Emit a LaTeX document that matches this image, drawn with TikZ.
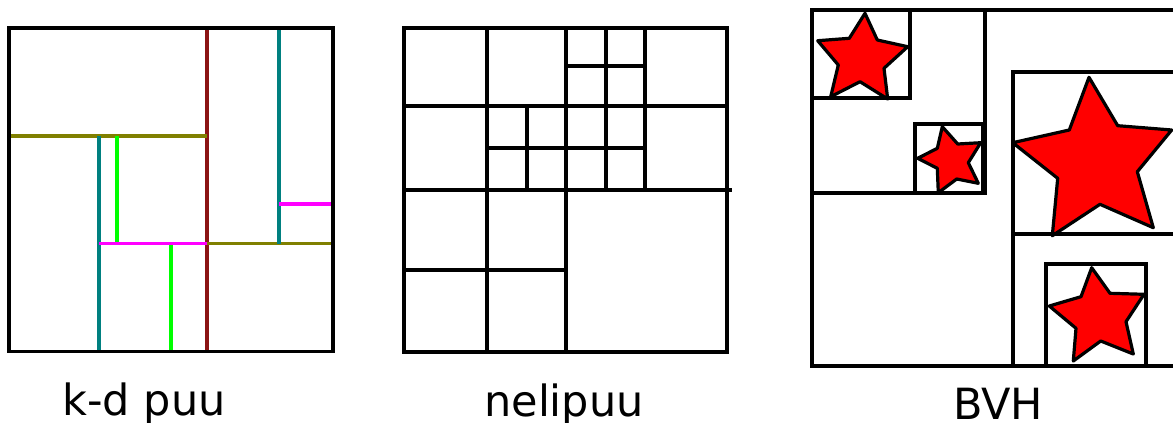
\documentclass[tikz,border=0pt]{standalone}
\usepackage{fontspec}
\setmainfont{DejaVu Sans}
\definecolor{kdred}{RGB}{139,20,20}
\definecolor{kdolive}{RGB}{128,128,0}
\definecolor{kdteal}{RGB}{0,128,128}
\definecolor{kdgreen}{RGB}{0,255,0}
\definecolor{kdmagenta}{RGB}{255,0,255}
\begin{document}
\begin{tikzpicture}[x=1pt,y=-1pt]
\tikzset{
  box/.style={draw=black,line width=3.5pt},
  split/.style={line width=3.2pt},
  qline/.style={draw=black,line width=3.5pt},
  starshape/.style={draw=black,fill=red,line width=3.2pt,line join=round},
  lbl/.style={anchor=base,inner sep=0pt,font=\fontsize{43}{50}\selectfont}
}
\useasboundingbox (0,0) rectangle (1173,423);
\clip (0,0) rectangle (1173,423);
% ---------- k-d tree ----------
\draw[split,kdred] (207,28) -- (207,351.5);
\draw[split,kdolive] (9,136) -- (207,136);
\draw[split,kdolive] (207,243.5) -- (333,243.5);
\draw[split,kdteal] (99,136) -- (99,351.5);
\draw[split,kdteal] (279,28) -- (279,243.5);
\draw[split,kdgreen] (117,136) -- (117,243.5);
\draw[split,kdgreen] (171,243.5) -- (171,351.5);
\draw[split,kdmagenta] (99,243.5) -- (207,243.5);
\draw[split,kdmagenta] (279,204) -- (333,204);
\draw[box] (9,28) rectangle (333,351.5);
% ---------- quadtree ----------
\draw[qline] (404,190) -- (732,190);
\draw[qline] (566,28) -- (566,352);
\draw[qline] (487,28) -- (487,352);
\draw[qline] (404,106) -- (727,106);
\draw[qline] (404,270) -- (566,270);
\draw[qline] (645,28) -- (645,190);
\draw[qline] (527,106) -- (527,190);
\draw[qline] (487,148) -- (645,148);
\draw[qline] (606,28) -- (606,190);
\draw[qline] (566,66) -- (645,66);
\draw[box] (404,28) rectangle (727,352);
% ---------- BVH ----------
\draw[box] (812,10) rectangle (1190,366);
\draw[box] (812,10) rectangle (985,193);
\draw[box] (812,10) rectangle (910,98);
\draw[box] (915,124) rectangle (983,193);
\draw[box] (1013,72) rectangle (1190,366);
\draw[box] (1013,72) rectangle (1190,234);
\draw[box] (1046,264) rectangle (1146,366);
\draw[starshape] (865,13.3) -- (877.3,40) -- (907.7,46.7) -- (884,68.3) -- (887.7,99) -- (860,81.7) -- (830.7,96.7) -- (838.3,65) -- (817.7,40.7) -- (849.3,38.3) -- cycle;
\draw[starshape] (942.3,126.7) -- (957.7,144) -- (980.7,142.7) -- (968.3,162.7) -- (978.3,183.3) -- (956.7,179) -- (938.3,192.7) -- (937.3,168.3) -- (917.7,158.3) -- (937.3,148.3) -- cycle;
\draw[starshape] (1089,77.3) -- (1117.7,125.7) -- (1171.7,130) -- (1137.3,171.7) -- (1153.3,227.7) -- (1100,204.3) -- (1052.3,235.7) -- (1057.7,178.3) -- (1012.7,142.7) -- (1069.3,130) -- cycle;
\draw[starshape] (1091.7,267.7) -- (1110,293.3) -- (1144,294.3) -- (1126,321.7) -- (1133.3,354) -- (1100.7,341) -- (1073.3,361) -- (1076,328.3) -- (1049.3,306) -- (1081,296.7) -- cycle;
% ---------- labels ----------
\node[lbl] (kdlabel) at (144,415) {k-d puu};
\node[lbl] (qlabel) at (564,416) {nelipuu};
\node[lbl] (bvhlabel) at (998,419) {BVH};
\end{tikzpicture}
\end{document}
